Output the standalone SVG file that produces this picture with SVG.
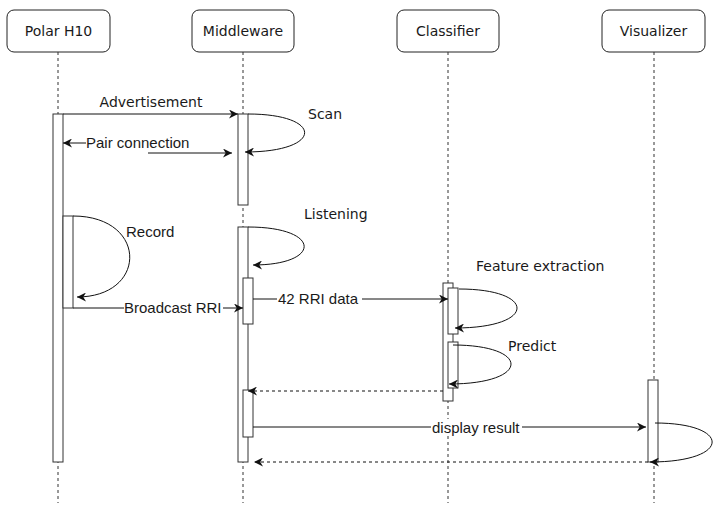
<svg xmlns="http://www.w3.org/2000/svg" width="718" height="515" viewBox="0 0 718 515">
<style>
.box{fill:#fff;stroke:#222;stroke-width:1}
.hd{font-family:"DejaVu Sans",Verdana,sans-serif;font-size:14px;fill:#1a1a1a;text-anchor:middle}
.life{stroke:#333;stroke-width:1;stroke-dasharray:3 3;fill:none}
.act{fill:#fff;stroke:#333;stroke-width:1}
.msg{stroke:#111;stroke-width:1;fill:none}
.ret{stroke:#111;stroke-width:1;fill:none;stroke-dasharray:3 3}
.lv{font-family:"DejaVu Sans",Verdana,sans-serif;font-size:14px;fill:#1a1a1a}
.la{font-family:"Liberation Sans",Arial,sans-serif;font-size:15px;fill:#1a1a1a}
</style>
<defs>
<marker id="ah" viewBox="0 0 10 10" refX="10" refY="5" markerWidth="9" markerHeight="9" markerUnits="userSpaceOnUse" orient="auto">
<path d="M0,0 L10,5 L0,10 L3,5 z" fill="#111"/>
</marker>
</defs>
<rect width="718" height="515" fill="#fff"/>
<g id="polar">
<rect class="box" x="7" y="10" width="103" height="42" rx="7"/>
<text class="hd" x="58.5" y="36">Polar H10</text>
<line class="life" x1="58" y1="52" x2="58" y2="503"/>
<rect class="act" x="53" y="114" width="10" height="348"/>
<rect class="act" x="63" y="216" width="10" height="92"/>
</g>
<g id="middleware">
<rect class="box" x="192" y="10" width="102" height="42" rx="7"/>
<text class="hd" x="243" y="36">Middleware</text>
<line class="life" x1="243" y1="52" x2="243" y2="503"/>
<rect class="act" x="238" y="114" width="10" height="91"/>
<rect class="act" x="238" y="227" width="10" height="235"/>
<rect class="act" x="243" y="278" width="10" height="46"/>
<rect class="act" x="243" y="390" width="10" height="47"/>
</g>
<g id="classifier">
<rect class="box" x="397" y="10" width="102" height="42" rx="7"/>
<text class="hd" x="448" y="36">Classifier</text>
<line class="life" x1="448" y1="52" x2="448" y2="503"/>
<rect class="act" x="443" y="283" width="10" height="118"/>
<rect class="act" x="448" y="288" width="10" height="46"/>
<rect class="act" x="448" y="342" width="10" height="46"/>
</g>
<g id="visualizer">
<rect class="box" x="602" y="10" width="103" height="42" rx="7"/>
<text class="hd" x="653.5" y="36">Visualizer</text>
<line class="life" x1="654" y1="52" x2="654" y2="503"/>
<rect class="act" x="648" y="380" width="10" height="82"/>
</g>
<g id="connectors">
<line class="msg" x1="63" y1="114" x2="238" y2="114" marker-end="url(#ah)"/>
<text class="lv" x="151" y="107" text-anchor="middle" font-size="15">Advertisement</text>
<path class="msg" d="M248,114 C324,114 324,152 245,152" marker-end="url(#ah)"/>
<text class="lv" x="308" y="119">Scan</text>
<line class="msg" x1="86" y1="143" x2="63" y2="143" marker-end="url(#ah)"/>
<text class="la" x="86" y="148">Pair connection</text>
<line class="msg" x1="148" y1="153" x2="232" y2="153" marker-end="url(#ah)"/>
<path class="msg" d="M248,227 C322,227 322,265 253,265" marker-end="url(#ah)"/>
<text class="lv" x="304" y="219">Listening</text>
<path class="msg" d="M73,216 C148,216 148,297 77,297" marker-end="url(#ah)"/>
<text class="la" x="126" y="237">Record</text>
<line class="msg" x1="73" y1="308" x2="243" y2="308" marker-end="url(#ah)"/>
<rect x="124" y="299" width="99" height="15" fill="#fff"/>
<text class="la" x="124" y="313">Broadcast RRI</text>
<line class="msg" x1="253" y1="299" x2="448" y2="299" marker-end="url(#ah)"/>
<rect x="277" y="290" width="85" height="15" fill="#fff"/>
<text class="la" x="278" y="304">42 RRI data</text>
<path class="msg" d="M459,289 C537,289 537,328 455,328" marker-end="url(#ah)"/>
<text class="lv" x="476" y="271">Feature extraction</text>
<path class="msg" d="M453,345 C531,345 531,384 449,384" marker-end="url(#ah)"/>
<text class="lv" x="508" y="351">Predict</text>
<line class="ret" x1="443" y1="391" x2="248" y2="391" marker-end="url(#ah)"/>
<line class="msg" x1="253" y1="427" x2="646" y2="427" marker-end="url(#ah)"/>
<rect x="431" y="419" width="91" height="16" fill="#fff"/>
<text class="la" x="432" y="433">display result</text>
<path class="msg" d="M655,423 C732,423 732,462 650,462" marker-end="url(#ah)"/>
<line class="ret" x1="648" y1="462" x2="254" y2="462" marker-end="url(#ah)"/>
</g>
</svg>
